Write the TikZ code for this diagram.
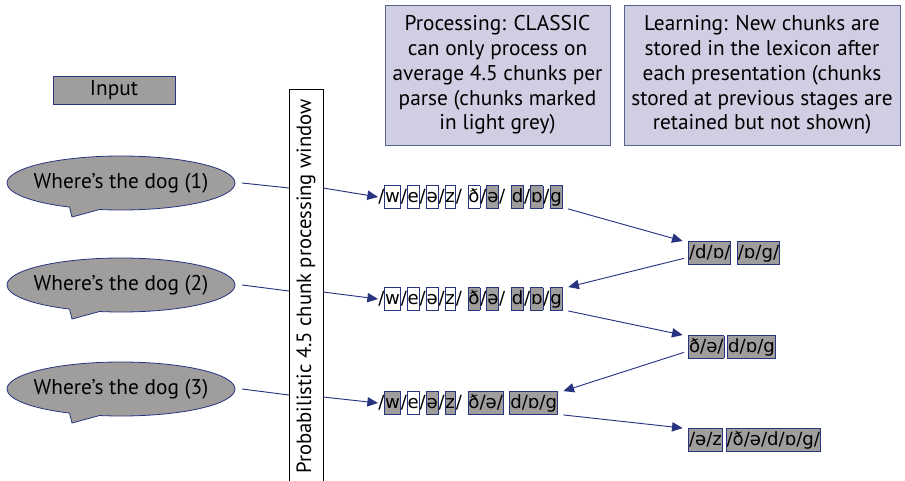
\documentclass[tikz,border=0pt]{standalone}
\usepackage{fontspec}
\setmainfont{PT Sans}
\newfontfamily\ipafont{DejaVu Sans}
\usetikzlibrary{arrows.meta,shapes.callouts}
\definecolor{chunkgrey}{RGB}{160,157,157}
\definecolor{edgeblue}{RGB}{40,52,128}
\definecolor{notefill}{RGB}{208,206,226}
\definecolor{noteedge}{RGB}{88,98,140}
\setlength{\fboxsep}{0pt}
\setlength{\fboxrule}{0.6pt}
\newcommand{\wc}[1]{\fcolorbox{edgeblue}{white}{\rule[-0.3em]{0pt}{1.2em}#1}}
\newcommand{\gc}[1]{\fcolorbox{edgeblue}{chunkgrey}{\rule[-0.3em]{0pt}{1.2em}#1}}
\newcommand{\bubtext}[1]{\makebox[0pt]{#1}}
\begin{document}
\begin{tikzpicture}[x=0.75pt, y=-0.75pt,
    bubble/.style={ellipse callout, draw=edgeblue, fill=chunkgrey, line width=0.6pt,
      inner sep=0pt, minimum width=171pt, minimum height=40.5pt, callout pointer arc=16,
      font=\fontsize{16}{19}\selectfont},
    inbox/.style={draw=edgeblue, fill=chunkgrey, minimum width=91.5pt, minimum height=19.5pt,
      font=\fontsize{16}{19}\selectfont},
    note/.style={draw=noteedge, fill=notefill, line width=0.7pt, align=center,
      font=\fontsize{16}{18.6}\selectfont},
    chunks/.style={inner sep=0pt, anchor=west, font=\ipafont\fontsize{13.6}{16}\selectfont},
    link/.style={draw=edgeblue, line width=0.7pt},
    arrow/.style={link, -{Triangle[length=8pt, width=7pt]}}]
    \useasboundingbox (0,0) rectangle (905,481);
    % Nodes
    \node[inbox] (input) at (114,90) {Input};
    \node[note, minimum width=168.75pt, minimum height=105pt] (proc) at (497.5,75)
      {Processing: CLASSIC\\can only process on\\average 4.5 chunks per\\parse (chunks marked\\in light grey)};
    \node[note, minimum width=207pt, minimum height=105pt] (learn) at (762,75)
      {Learning: New chunks are\\stored in the lexicon after\\each presentation (chunks\\stored at previous stages are\\retained but not shown)};
    \node[draw, line width=0.7pt, rotate=90, minimum width=295pt, minimum height=25.5pt,
      font=\fontsize{15.5}{18}\selectfont] (window) at (306,286.5) {Probabilistic 4.5 chunk processing window};
    \node[bubble, callout absolute pointer={(72,217)}] (bub1) at (121,183) {\bubtext{Where’s the dog (1)}};
    \node[bubble, callout absolute pointer={(72,319)}] (bub2) at (121,285) {\bubtext{Where’s the dog (2)}};
    \node[bubble, callout absolute pointer={(72,423)}] (bub3) at (121,389) {\bubtext{Where’s the dog (3)}};
    \coordinate (in1) at (289,188);
    \coordinate (in2) at (289,291);
    \coordinate (in3) at (289,395);
    \coordinate (out1) at (323,188);
    \coordinate (out2) at (323,292);
    \coordinate (out3) at (323,397);
    \node[chunks] (row1) at (378,197) {/\wc{w}/\wc{e}/\wc{ə}/\wc{z}/ \wc{ð}/\gc{ə}/ \gc{d}/\gc{ɒ}/\gc{g}};
    \node[chunks] (row2) at (378,299) {/\wc{w}/\wc{e}/\wc{ə}/\wc{z}/ \gc{ð}/\gc{ə}/ \gc{d}/\gc{ɒ}/\gc{g}};
    \node[chunks] (row3) at (378,403) {/\gc{w}/\wc{e}/\gc{ə}/\gc{z}/ \gc{ð/ə/} \gc{d/ɒ/g}};
    \node[chunks] (lex1) at (688,253) {\gc{/d/ɒ/} \gc{/ɒ/g/}};
    \node[chunks] (lex2) at (688,347) {\gc{ð/ə/}\,\gc{d/ɒ/g}};
    \node[chunks] (lex3) at (688,440) {\gc{/ə/z}\,\gc{/ð/ə/d/ɒ/g/}};
    % Edges
    \draw[link] ([xshift=5pt]bub1.east) -- (in1);
    \draw[link] ([xshift=5pt]bub2.east) -- (in2);
    \draw[link] ([xshift=5pt]bub3.east) -- (in3);
    \draw[arrow] (out1) -- (row1.west);
    \draw[arrow] (out2) -- (row2.west);
    \draw[arrow] (out3) -- (row3.west);
    \draw[arrow] ([xshift=4pt]row1.south east) -- ([xshift=-4pt]lex1.north west);
    \draw[arrow] ([xshift=-3pt,yshift=-4pt]lex1.west) -- ([xshift=4pt]row2.north east);
    \draw[arrow] ([xshift=4pt]row2.south east) -- ([xshift=-4pt]lex2.north west);
    \draw[arrow] ([xshift=-3pt,yshift=-4pt]lex2.west) -- ([xshift=4pt]row3.north east);
    \draw[arrow] ([xshift=4pt]row3.south east) -- ([xshift=-4pt]lex3.north west);
\end{tikzpicture}
\end{document}
